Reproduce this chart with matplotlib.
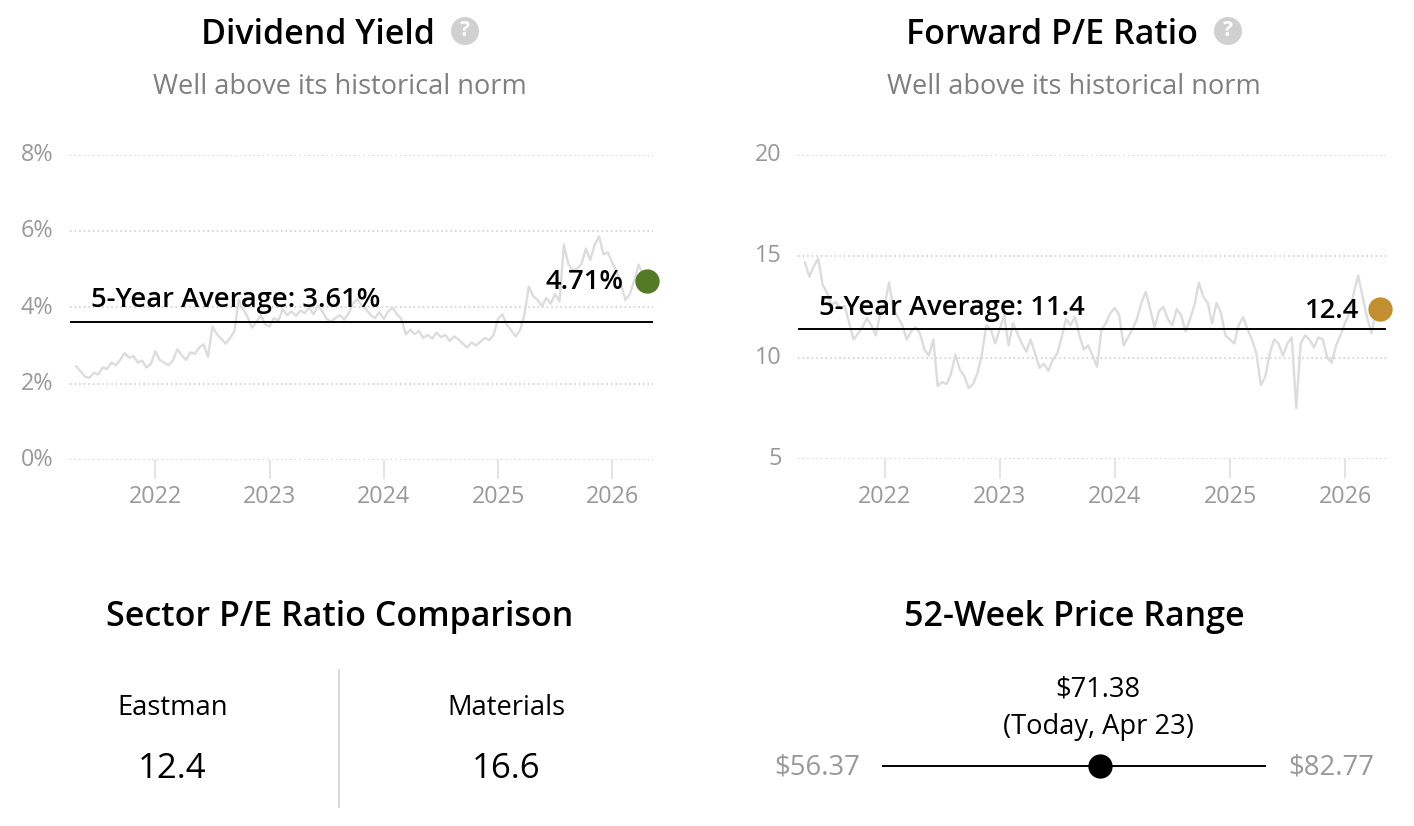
"""Dividend yield / forward P/E panels with sector comparison and 52-week range."""

import matplotlib
matplotlib.use("Agg")
import matplotlib.pyplot as plt
import matplotlib.transforms as mtransforms
from matplotlib.patches import Circle
import pandas as pd

plt.rcParams["font.family"] = ["Open Sans", "DejaVu Sans"]

# ------------------------------------------------------------------
# Data
# ------------------------------------------------------------------
yield_values = [
    2.45, 2.32, 2.18, 2.15, 2.28, 2.24, 2.42, 2.38, 2.55, 2.48, 2.62,
    2.80, 2.68, 2.72, 2.55, 2.60, 2.42, 2.52, 2.85, 2.62, 2.55,
    2.48, 2.60, 2.90, 2.74, 2.62, 2.82, 2.78, 2.95, 3.03, 2.70,
    3.50, 3.30, 3.18, 3.05, 3.20, 3.37, 4.20, 3.95, 3.75, 3.47,
    3.62, 3.80, 3.55, 3.50, 3.72, 3.65, 3.95, 3.80, 3.90, 3.78,
    3.92, 3.85, 4.00, 3.82, 4.05, 3.90, 3.70, 3.63, 3.72, 3.80,
    3.68, 3.85, 4.10, 4.22, 4.05, 3.95, 3.80, 3.72, 3.88, 3.70,
    3.90, 4.00, 3.82, 3.70, 3.29, 3.42, 3.30, 3.38, 3.20, 3.28,
    3.18, 3.34, 3.22, 3.28, 3.12, 3.24, 3.16, 3.05, 2.95, 3.08,
    3.00, 3.10, 3.20, 3.14, 3.28, 3.70, 3.82, 3.55, 3.40, 3.24,
    3.40, 3.80, 4.55, 4.30, 4.20, 4.03, 4.25, 4.10, 4.35, 4.16,
    5.66, 5.15, 4.98, 5.02, 5.15, 5.55, 5.25, 5.65, 5.87, 5.40,
    5.45, 5.18, 4.95, 4.60, 4.20, 4.35, 4.70, 5.13, 4.85, 4.71,
]
pe_values = [
    14.7, 14.0, 14.5, 14.9, 13.6, 13.2, 12.6, 12.75, 12.4, 12.55, 11.7,
    10.9, 11.2, 11.5, 11.95, 11.6, 11.1, 12.2, 12.6, 13.7, 12.4,
    12.0, 11.6, 10.9, 11.3, 11.5, 11.2, 10.4, 10.1, 10.9, 8.6,
    8.8, 8.7, 9.2, 10.15, 9.4, 9.1, 8.5, 8.7, 9.25, 10.2,
    11.6, 11.4, 10.7, 11.4, 12.1, 10.6, 11.7, 11.2, 10.7, 10.3,
    10.9, 10.2, 9.5, 9.7, 9.35, 9.9, 10.2, 11.0, 11.9, 11.6,
    12.0, 11.1, 10.4, 10.6, 10.1, 9.55, 11.4, 11.7, 12.2, 12.45,
    12.1, 10.6, 11.0, 11.4, 11.9, 12.7, 13.25, 12.4, 11.5, 12.3,
    12.5, 11.9, 11.6, 12.4, 12.1, 11.3, 11.9, 12.6, 13.7, 13.0,
    12.7, 11.7, 12.7, 12.2, 11.1, 10.9, 10.7, 11.6, 12.0, 11.4,
    10.9, 10.2, 8.65, 9.05, 10.2, 10.9, 10.7, 10.1, 10.7, 11.0,
    7.5, 10.7, 11.1, 10.9, 10.5, 11.0, 10.9, 10.0, 9.75, 10.6,
    11.1, 11.7, 12.2, 13.2, 14.05, 13.0, 12.0, 11.2, 12.3, 12.4,
]
years = [2022, 2023, 2024, 2025, 2026]
yield_ticks = [0, 2, 4, 6, 8]
yield_labels = ["0%", "2%", "4%", "6%", "8%"]
pe_ticks = [5, 10, 15, 20]
pe_labels = ["5", "10", "15", "20"]

yield_avg = 3.61
yield_now = 4.71
pe_avg = 11.4
pe_now = 12.4
sector_names = ["Eastman", "Materials"]
sector_pe = [12.4, 16.6]
price_low = 56.37
price_high = 82.77
price_now = 71.38

W, H = 1414, 826
BLACK = "#000000"
GREY_TICK = "#999999"
GREY_SUB = "#7f7f7f"
GREY_LINE = "#dcdcdc"
GRID = "#c8c8c8"
SEMI = 600

fig = plt.figure(figsize=(W / 100, H / 100), dpi=100, facecolor="white")

# overlay in pixel coordinates for the headings and separators
bg = fig.add_axes([0, 0, 1, 1])
bg.set_xlim(0, W)
bg.set_ylim(H, 0)
bg.axis("off")


def axes_px(left, right, top, bottom):
    return fig.add_axes([left / W, 1 - bottom / H, (right - left) / W, (bottom - top) / H])


def heading(text, x, y, size=24.5):
    bg.text(x, y, text, ha="center", va="center", fontsize=size, fontweight=SEMI, color=BLACK)


def help_icon(x, y):
    bg.add_patch(Circle((x, y), 14, color="#d0d0d0", lw=0))
    bg.text(x, y, "?", ha="center", va="center", fontsize=15, fontweight="bold", color="white")


def history_panel(box, values, ticks, tick_labels, ylim, xlim, avg, now, now_color):
    ax = axes_px(*box)
    ax.patch.set_alpha(0)
    dates = pd.date_range("2021-04-23", "2026-04-23", periods=len(values))
    ax.plot(dates, values, color=GREY_LINE, lw=1.7, solid_joinstyle="round", zorder=2)
    ax.axhline(avg, color=BLACK, lw=1.4, zorder=3)
    ax.plot([dates[-1]], [now], "o", ms=17.5, color=now_color, mew=0, clip_on=False, zorder=5)

    ax.set_xlim(pd.Timestamp(xlim[0]), pd.Timestamp(xlim[1]))
    ax.set_ylim(*ylim)
    ax.set_yticks(ticks)
    ax.set_yticklabels(tick_labels, fontsize=16.8, color=GREY_TICK)
    ax.set_xticks([pd.Timestamp(f"{y}-01-01") for y in years])
    ax.set_xticklabels([str(y) for y in years], fontsize=16.8, color=GREY_TICK)
    ax.grid(axis="y", color=GRID, lw=1.1, linestyle=(0, (1, 2)), zorder=1)
    ax.tick_params(axis="y", length=0, pad=12)
    ax.tick_params(axis="x", length=13.5, width=1.3, color="#e0e0e0", pad=5)
    for side in ax.spines.values():
        side.set_visible(False)
    # the y labels sit slightly above their gridlines
    shift = mtransforms.ScaledTranslation(0, 3 / 100, fig.dpi_scale_trans)
    for lab in ax.get_yticklabels():
        lab.set_transform(lab.get_transform() + shift)

    return ax


# ------------------------------------------------------------------
# Top row
# ------------------------------------------------------------------
history_panel((70, 653, 155.5, 459.5), yield_values, yield_ticks, yield_labels, (0, 8),
              ("2021-04-03", "2026-05-11"), yield_avg, yield_now, "#557a26")
history_panel((798, 1386, 155, 459), pe_values, pe_ticks, pe_labels, (5, 20),
              ("2021-04-01", "2026-05-11"), pe_avg, pe_now, "#c28e2f")

heading("Dividend Yield", 317.5, 34.5)
help_icon(465, 31)
bg.text(340, 87, "Well above its historical norm", ha="center", va="center", fontsize=19.5, color=GREY_SUB)
heading("Forward P/E Ratio", 1051.5, 34.5)
help_icon(1228, 31)
bg.text(1073.5, 87, "Well above its historical norm", ha="center", va="center", fontsize=19.5, color=GREY_SUB)

bg.set_zorder(10)
bg.patch.set_alpha(0)
ann = dict(va="center", fontsize=19.7, fontweight=SEMI, color=BLACK)
bg.text(91, 300, f"5-Year Average: {yield_avg}%", ha="left", **ann)
bg.text(624, 282, f"{yield_now}%", ha="right", **ann)
bg.text(819, 308, f"5-Year Average: {pe_avg}", ha="left", **ann)
bg.text(1359, 311, f"{pe_now}", ha="right", **ann)

# ------------------------------------------------------------------
# Bottom row
# ------------------------------------------------------------------
heading("Sector P/E Ratio Comparison", 340, 616.5)
heading("52-Week Price Range", 1074, 616.5)

bg.plot([339, 339], [670, 807], color="#d9d9d9", lw=1.4)
for x, name, val in zip([172.5, 506.5], sector_names, sector_pe):
    bg.text(x, 708, name, ha="center", va="center", fontsize=19.7, color=BLACK)
    bg.text(x, 769, f"{val}", ha="center", va="center", fontsize=25, color=BLACK)

rng = axes_px(882, 1266, 756, 776)
rng.set_xlim(price_low, price_high)
rng.set_ylim(-1, 1)
rng.axis("off")
rng.axhline(0, color=BLACK, lw=1.4)
rng.plot([price_now], [0], "o", ms=17.5, color=BLACK, mew=0, clip_on=False)

bg.text(1098, 689, f"${price_now:.2f}", ha="center", va="center", fontsize=19.6, color=BLACK)
bg.text(1098, 727, "(Today, Apr 23)", ha="center", va="center", fontsize=19.6, color=BLACK)
bg.text(817, 767, f"${price_low:.2f}", ha="center", va="center", fontsize=19.8, color=GREY_TICK)
bg.text(1331, 767, f"${price_high:.2f}", ha="center", va="center", fontsize=19.8, color=GREY_TICK)

fig.savefig("out.png", dpi=100)
